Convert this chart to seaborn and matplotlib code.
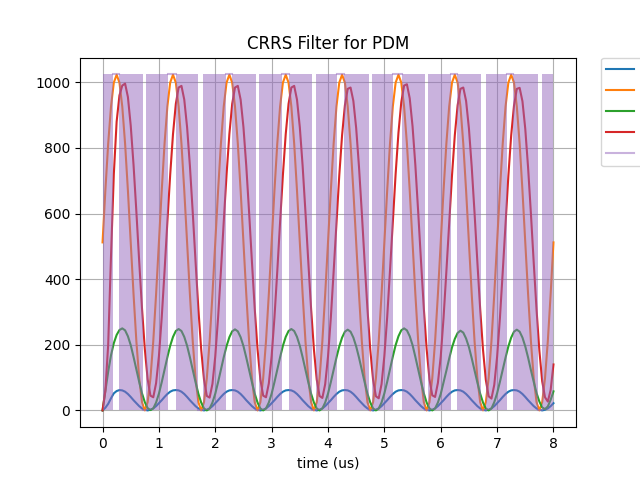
import matplotlib
matplotlib.use("Agg")
import matplotlib.pyplot as plt
import numpy as np
import seaborn as sns

# sample times (us), 20 samples per 1 us period
t = np.linspace(0, 8, 161)

# PDM input sine (orange)
x_in = [
    512, 670, 813, 926, 999, 1023, 999, 926, 813, 670, 512, 354, 211, 98, 25, 0, 25, 98, 211, 354,
    512, 670, 813, 926, 999, 1023, 999, 926, 813, 670, 512, 354, 211, 98, 25, 0, 25, 98, 211, 354,
    512, 670, 813, 926, 999, 1023, 999, 926, 813, 670, 512, 354, 211, 98, 25, 0, 25, 98, 211, 354,
    512, 670, 813, 926, 999, 1023, 999, 926, 813, 670, 512, 354, 211, 98, 25, 0, 25, 98, 211, 354,
    512, 670, 813, 926, 999, 1023, 999, 926, 813, 670, 512, 354, 211, 98, 25, 0, 25, 98, 211, 354,
    512, 670, 813, 926, 999, 1023, 999, 926, 813, 670, 512, 354, 211, 98, 25, 0, 25, 98, 211, 354,
    512, 670, 813, 926, 999, 1023, 999, 926, 813, 670, 512, 354, 211, 98, 25, 0, 25, 98, 211, 354,
    512, 670, 813, 926, 999, 1023, 999, 926, 813, 670, 512, 354, 211, 98, 25, 0, 25, 98, 211, 354,
    512,
]

# filter stages
stage1 = [
    0, 8, 20, 37, 52, 59, 62, 61, 57, 50, 41, 31, 22, 13, 6, 2, 0, 2, 6, 13,
    22, 31, 41, 50, 57, 61, 62, 61, 57, 50, 41, 31, 22, 13, 6, 2, 0, 2, 6, 13,
    22, 31, 41, 50, 57, 61, 62, 61, 57, 50, 41, 31, 22, 13, 6, 2, 0, 2, 6, 13,
    22, 31, 41, 50, 57, 61, 62, 61, 57, 50, 41, 31, 22, 13, 6, 2, 0, 2, 6, 13,
    22, 31, 41, 50, 57, 61, 62, 61, 57, 50, 41, 31, 22, 13, 6, 2, 0, 2, 6, 13,
    22, 31, 41, 50, 57, 61, 62, 61, 57, 50, 41, 31, 22, 13, 6, 2, 0, 2, 6, 13,
    22, 31, 41, 50, 57, 61, 62, 61, 57, 50, 41, 31, 22, 13, 6, 2, 0, 2, 6, 13,
    22, 31, 41, 50, 57, 61, 62, 61, 57, 50, 41, 31, 22, 13, 6, 2, 0, 2, 6, 13,
    22,
]

stage2 = [
    0, 60, 118, 168, 205, 230, 245, 250, 244, 226, 199, 163, 125, 87, 52, 25, 7, 1, 6, 24,
    51, 86, 124, 162, 197, 224, 242, 248, 242, 224, 197, 162, 124, 86, 51, 24, 6, 0, 6, 24,
    51, 86, 124, 162, 196, 223, 241, 247, 241, 223, 196, 161, 123, 86, 51, 24, 6, 0, 6, 24,
    51, 86, 124, 162, 197, 224, 242, 248, 242, 224, 197, 162, 124, 86, 51, 24, 6, 0, 6, 24,
    51, 86, 123, 161, 195, 222, 240, 246, 240, 222, 195, 161, 123, 86, 51, 24, 6, 0, 6, 24,
    52, 87, 125, 164, 199, 226, 244, 250, 244, 226, 199, 163, 125, 87, 52, 24, 6, 0, 6, 24,
    50, 85, 121, 158, 192, 218, 236, 243, 237, 219, 193, 159, 122, 85, 51, 24, 6, 0, 6, 25,
    52, 87, 124, 161, 195, 222, 240, 246, 240, 222, 195, 161, 123, 87, 53, 27, 9, 4, 12, 32,
    58,
]

stage3 = [
    0, 60, 200, 470, 720, 880, 960, 990, 996, 955, 868, 748, 606, 455, 311, 187, 95, 45, 40, 83,
    165, 283, 424, 574, 718, 842, 934, 984, 989, 947, 863, 745, 604, 454, 310, 186, 94, 44, 39, 81,
    165, 283, 424, 574, 718, 842, 934, 984, 989, 947, 863, 745, 604, 454, 310, 186, 94, 45, 40, 82,
    165, 283, 424, 574, 718, 842, 934, 984, 989, 947, 863, 745, 604, 454, 310, 186, 94, 44, 38, 80,
    164, 282, 423, 572, 716, 839, 930, 980, 984, 943, 860, 742, 602, 452, 309, 185, 93, 43, 37, 80,
    166, 284, 426, 576, 721, 846, 939, 990, 994, 951, 866, 747, 605, 455, 311, 187, 95, 46, 41, 84,
    164, 282, 423, 572, 716, 839, 930, 980, 984, 943, 860, 742, 602, 452, 309, 185, 93, 43, 36, 78,
    163, 281, 422, 571, 715, 838, 929, 980, 983, 942, 858, 740, 600, 450, 307, 182, 89, 40, 27, 62,
    140,
]

# PDM bit stream: intervals (us) where it holds high / low, toggling elsewhere
pdm_high_starts = [0.19, 1.16, 2.19, 3.18, 4.16, 5.16, 6.18, 7.17]
pdm_high_ends = [0.30, 1.30, 2.29, 3.31, 4.29, 5.31, 6.28, 7.29]
pdm_low_starts = [0.72, 1.69, 2.72, 3.72, 4.73, 5.72, 6.72, 7.73]
pdm_low_ends = [0.77, 1.78, 2.78, 3.78, 4.78, 5.78, 6.80, 7.80]
pdm_max = 1024

# legend labels fall outside the figure in the reference, so none are shown
labels = [" "] * 5
colors = sns.color_palette("tab10")

fig, ax = plt.subplots(figsize=(6.4, 4.8), dpi=100)

sns.lineplot(x=t, y=stage1, ax=ax, color=colors[0], estimator=None, sort=False)
sns.lineplot(x=t, y=x_in, ax=ax, color=colors[1], estimator=None, sort=False)
sns.lineplot(x=t, y=stage2, ax=ax, color=colors[2], estimator=None, sort=False)
sns.lineplot(x=t, y=stage3, ax=ax, color=colors[3], estimator=None, sort=False)

# held segments of the PDM line
holds = sorted([(s, e, pdm_max) for s, e in zip(pdm_high_starts, pdm_high_ends)] +
               [(s, e, 0) for s, e in zip(pdm_low_starts, pdm_low_ends)])
hx, hy = [], []
for s, e, lvl in holds:
    hx += [s, e, np.nan]
    hy += [lvl, lvl, np.nan]
ax.plot(hx, hy, color=colors[4], alpha=0.5, lw=1.5, zorder=3)

# toggling regions, dense enough to read as a solid band
edges = [0.0] + [v for s, e, _ in holds for v in (s, e)] + [8.0]
for a, b in zip(edges[0::2], edges[1::2]):
    ax.fill_between([a, b], 0, pdm_max, color=colors[4], alpha=0.5, lw=0, zorder=3)

ax.grid(True)
ax.set_title("CRRS Filter for PDM")
ax.set_xlabel("time (us)")
ax.set_ylabel("")
handles = ax.get_lines()[:5]
ax.legend(handles, labels, loc="upper left", bbox_to_anchor=(1.05, 1), borderaxespad=0.)

plt.savefig("out.png", dpi=100)
